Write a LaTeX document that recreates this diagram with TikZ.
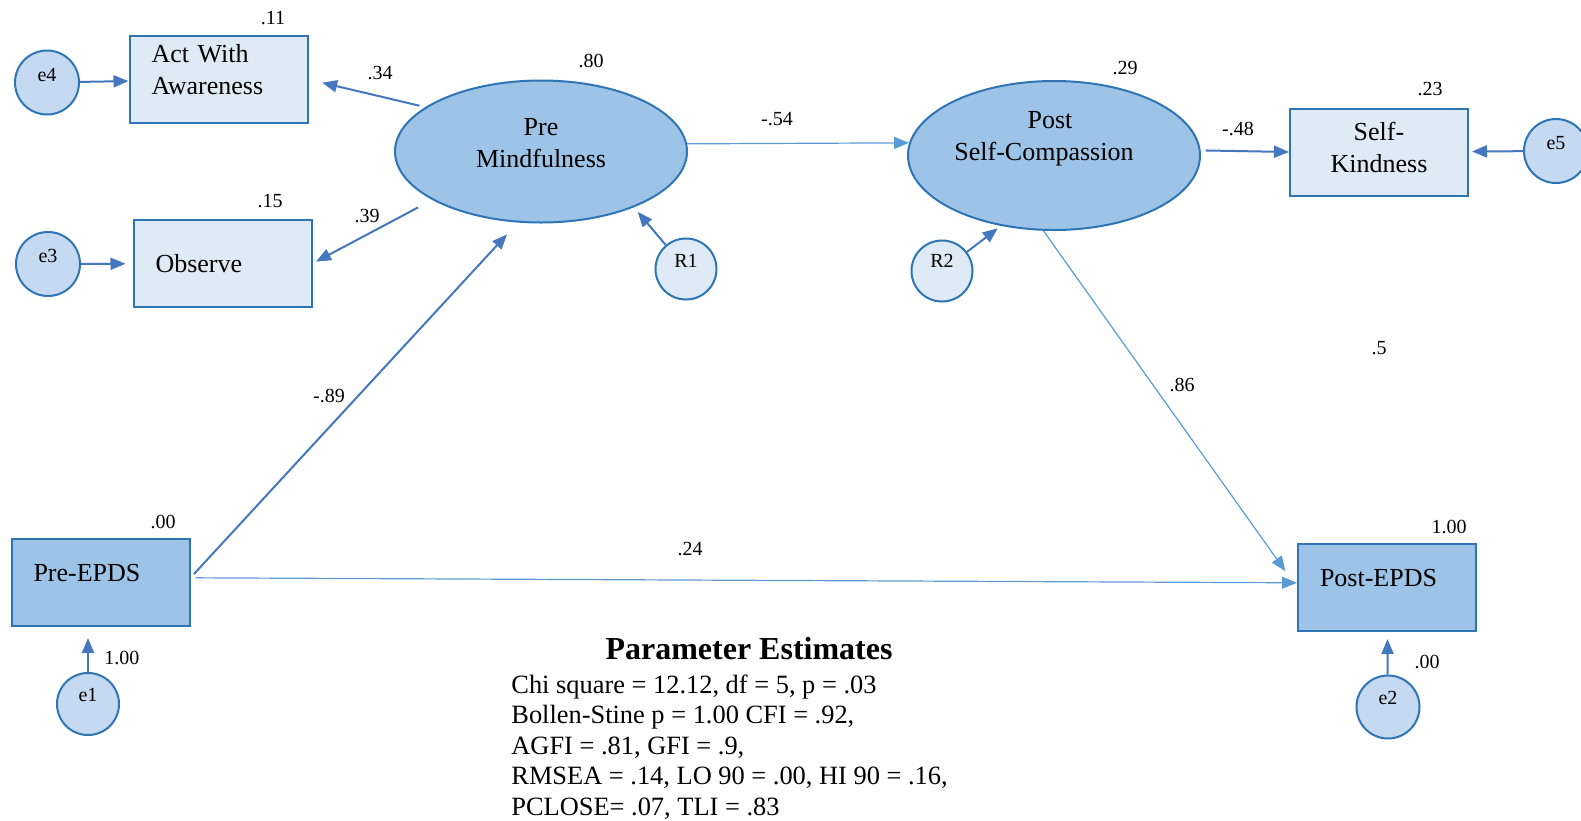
\documentclass[tikz,border=0pt]{standalone}
\usepackage{fontspec}
\setmainfont{Liberation Serif}
\usetikzlibrary{arrows.meta, shapes.geometric}

\definecolor{lineblue}{RGB}{46,117,182}
\definecolor{arrowblue}{RGB}{68,119,190}
\definecolor{thinblue}{RGB}{91,155,213}
\definecolor{darkfill}{RGB}{157,195,230}
\definecolor{lightfill}{RGB}{222,235,247}
\definecolor{errfill}{RGB}{197,217,241}

% extra depth below the last line, lifts the text inside its shape
\newcommand{\lowstrut}[1]{\rule[-#1]{0pt}{#1}}

\begin{document}
\begin{tikzpicture}[
    x=0.5pt, y=-0.5pt, % one unit is one pixel of the original figure
    % Define observed variable style
    obs/.style={
        draw=lineblue, line width=1pt, % Border
        rectangle, fill=lightfill,
        minimum width=89pt, % Minimum width
        minimum height=43.5pt, % Minimum height
        inner xsep=11pt, text width=67pt,
        align=left, % Left alignment
        font=\fontsize{13}{16}\selectfont
      },
    % Define latent variable style
    latent/.style={
        draw=lineblue, line width=1pt,
        ellipse, fill=darkfill,
        minimum width=146pt, inner sep=0pt,
        align=center,
        font=\fontsize{13}{16}\selectfont
      },
    % Define error term style
    err/.style={
        draw=lineblue, line width=1pt,
        circle, fill=errfill,
        minimum size=32pt, inner sep=0pt,
        font=\fontsize{10}{12}\selectfont
      },
    % Define coefficient style
    coef/.style={font=\fontsize{10}{12}\selectfont, inner sep=0pt},
    % Define arrow styles
    regpath/.style={draw=arrowblue, line width=1pt, -{Triangle[length=7.5pt,width=6pt]}},
    thinpath/.style={draw=thinblue, line width=0.6pt, -{Triangle[length=7.5pt,width=6pt]}}
  ]

  \useasboundingbox (0,0) rectangle (1581,820);

  % Latent variables
  \node[latent, minimum height=71pt] (PreMind) at (541,151.5) {Pre\\Mindfulness\lowstrut{8.5pt}};
  \node[latent, minimum height=74.5pt] (PostSC) at (1054,155.5) {Post\kern4pt\\Self-Compassion\kern10pt\lowstrut{20pt}};

  % Indicators
  \node[obs] (Act) at (218.5,79.5) {Act With\\Awareness\lowstrut{10pt}};
  \node[obs] (Observe) at (222.5,263.5) {Observe};
  \node[obs, align=center] (Kind) at (1379,152) {Self-\\Kindness\lowstrut{5pt}};
  \node[obs, fill=darkfill] (PreEPDS) at (100.5,582.5) {Pre-EPDS\lowstrut{10pt}};
  \node[obs, fill=darkfill] (PostEPDS) at (1387,587.5) {Post-EPDS\lowstrut{10pt}};

  % Error terms and residuals
  \node[err] (e4) at (47,82.5) {e4\lowstrut{8pt}};
  \node[err] (e3) at (48,264) {e3\lowstrut{8pt}};
  \node[err] (e5) at (1556,151) {e5\lowstrut{8pt}};
  \node[err, fill=lightfill, minimum size=30.5pt] (R1) at (686,269) {R1\lowstrut{8pt}};
  \node[err, fill=lightfill, minimum size=30.5pt] (R2) at (942,271) {R2\lowstrut{10pt}};
  \node[err, minimum size=31pt] (e1) at (88,704) {e1\lowstrut{9pt}};
  \node[err, minimum size=31.5pt] (e2) at (1388,707) {e2\lowstrut{9pt}};

  % Error arrows
  \draw[regpath] (e4) -- (Act);
  \draw[regpath, shorten >=3.5pt] (e3) -- (Observe);
  \draw[regpath, shorten >=1.5pt] (e5) -- (Kind);
  \draw[regpath, shorten >=5.5pt] (e1) -- (e1 |- PreEPDS.south);
  \draw[regpath, shorten >=3.5pt] (e2) -- (PostEPDS);
  \draw[regpath, shorten >=3pt] (R1) -- (PreMind.-31);
  \draw[regpath, shorten >=2pt] (R2) -- (PostSC.233);

  % Loadings
  \draw[regpath, shorten <=3pt, shorten >=7pt] (PreMind.159) -- (Act.east);
  \draw[regpath, shorten <=8pt, shorten >=2pt] (PreMind.204) -- (Observe.east);
  \draw[regpath, shorten <=2.5pt] (PostSC.2) -- (Kind.west);

  % Structural paths
  \draw[thinpath] (PreMind.3) -- (PostSC.175);
  \draw[thinpath, shorten >=10pt] (PostSC.262) -- (PostEPDS.west);
  \draw[regpath, shorten <=2.5pt, shorten >=8pt] (PreEPDS.3) -- (PreMind.252);
  \draw[thinpath, shorten <=2.5pt] (PreEPDS.3) -- (PostEPDS.177);

  % Squared multiple correlations and variances
  \node[coef] (r2Act) at (273,18) {.11};
  \node[coef] (r2Obs) at (270,201) {.15};
  \node[coef] (r2Pre) at (591,61) {.80};
  \node[coef] (r2Post) at (1125,68) {.29};
  \node[coef] (r2Kind) at (1430,89) {.23};
  \node[coef] (r2PreEPDS) at (163,522) {.00};
  \node[coef] (r2PostEPDS) at (1449,527) {1.00};
  \node[coef] (vE1) at (122,658) {1.00};
  \node[coef] (vE2) at (1427,662) {.00};
  \node[coef] (extraHalf) at (1379,348) {.5};

  % Path coefficients
  \node[coef] (bAct) at (380,73) {.34};
  \node[coef] (bObs) at (367,216) {.39};
  \node[coef] (bMind) at (777,119) {-.54};
  \node[coef] (bKind) at (1238,129) {-.48};
  \node[coef] (bDep) at (1182,385) {.86};
  \node[coef] (bPre) at (329,396) {-.89};
  \node[coef] (bDirect) at (690,549) {.24};

  % Fit statistics
  \node[font=\fontsize{16}{19}\selectfont\bfseries, inner sep=0pt] (EstTitle) at (749,649) {Parameter Estimates};
  \node[anchor=north west, align=left, inner sep=0pt,
        font=\fontsize{13.2}{15.3}\selectfont] (EstText) at (511,674)
    {Chi square = 12.12, df = 5, p = .03\\
     Bollen-Stine p = 1.00 CFI = .92,\\
     AGFI = .81, GFI = .9,\\
     RMSEA = .14, LO 90 = .00, HI 90 = .16,\\
     PCLOSE= .07, TLI = .83};

\end{tikzpicture}
\end{document}
